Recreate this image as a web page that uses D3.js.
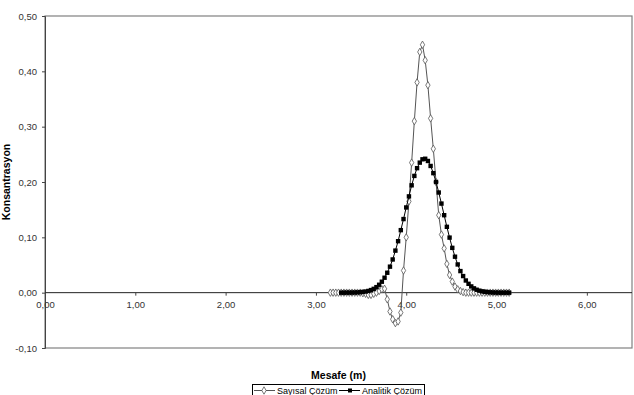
<!DOCTYPE html>
<html>
<head>
<meta charset="utf-8">
<script src="https://cdn.jsdelivr.net/npm/d3@7"></script>
<style>
  body { margin: 0; background: #fff; }
  svg { display: block; font-family: "Liberation Sans", Arial, sans-serif; }
</style>
</head>
<body>
<div id="viz"></div>
<script>
const width = 634;
const height = 395;
const plot = { left: 45, right: 632, top: 16, bottom: 348 };

// x positions (m), shared by both series
const mesafe = [3.16, 3.19, 3.22, 3.25, 3.28, 3.31, 3.34, 3.37, 3.40, 3.43, 3.46, 3.49,
  3.52, 3.55, 3.58, 3.61, 3.64, 3.67, 3.70, 3.73, 3.76, 3.79, 3.82, 3.85, 3.88, 3.91,
  3.94, 3.97, 4.00, 4.03, 4.06, 4.09, 4.12, 4.15, 4.18, 4.21, 4.24, 4.27, 4.30, 4.33,
  4.36, 4.39, 4.42, 4.45, 4.48, 4.51, 4.54, 4.57, 4.60, 4.63, 4.66, 4.69, 4.72, 4.75,
  4.78, 4.81, 4.84, 4.87, 4.90, 4.93, 4.96, 4.99, 5.02, 5.05, 5.08, 5.11, 5.14];

// Sayısal Çözüm (numeric)
const sayisal = [0, 0, 0, 0, 0, 0, 0, 0, 0, 0, 0, 0,
  -0.001, -0.002, -0.004, -0.004, -0.002, 0.000, 0.003, 0.006, 0.007, -0.012, -0.034, -0.048, -0.055, -0.052,
  -0.036, 0.040, 0.100, 0.165, 0.235, 0.310, 0.380, 0.435, 0.448, 0.420, 0.375, 0.315, 0.260, 0.200,
  0.140, 0.105, 0.080, 0.052, 0.032, 0.020, 0.011, 0.006, 0.003, 0.001, 0, 0, 0, 0,
  0, 0, 0, 0, 0, 0, 0, 0, 0, 0, 0, 0, 0];

// Analitik Çözüm (analytic), starts at 3.28
const analitik = [null, null, null, null, 0.0000, 0.0000, 0.0001, 0.0001, 0.0002, 0.0003, 0.0005, 0.0008,
  0.0013, 0.002, 0.0031, 0.0047, 0.0069, 0.010, 0.0143, 0.0198, 0.027, 0.036, 0.047, 0.060, 0.076, 0.093,
  0.113, 0.133, 0.154, 0.174, 0.194, 0.211, 0.225, 0.235, 0.241, 0.242, 0.238, 0.229, 0.216, 0.200,
  0.181, 0.161, 0.140, 0.119, 0.0995, 0.081, 0.065, 0.051, 0.039, 0.030, 0.022, 0.016, 0.0113, 0.0078,
  0.0053, 0.0036, 0.0023, 0.0015, 0.0009, 0.0006, 0.0003, 0.0002, 0.0001, 0, 0, 0, 0];

const xTicks = [0, 1, 2, 3, 4, 5, 6];
const yTicks = [-0.1, 0, 0.1, 0.2, 0.3, 0.4, 0.5];
const seriesNames = ['Sayısal Çözüm', 'Analitik Çözüm'];

const fmt = v => d3.format('.2f')(v).replace('.', ',').replace('\u2212', '-');

const xScale = d3.scaleLinear().domain([0, 6.5]).range([plot.left, plot.right]);
const yScale = d3.scaleLinear().domain([-0.1, 0.5]).range([plot.bottom, plot.top]);

const svg = d3.select('#viz')
  .append('svg')
    .attr('width', width)
    .attr('height', height);

// plot area frame
svg.append('rect')
  .attr('x', plot.left)
  .attr('y', plot.top)
  .attr('width', plot.right - plot.left)
  .attr('height', plot.bottom - plot.top)
  .attr('fill', '#fff')
  .attr('stroke', '#808080')
  .attr('stroke-width', 1.2);

// y axis
const yAxis = svg.append('g')
  .attr('transform', `translate(${plot.left},0)`)
  .call(d3.axisLeft(yScale).tickValues(yTicks).tickFormat(fmt).tickSizeOuter(0).tickSize(3).tickPadding(5));
yAxis.select('.domain').attr('stroke', '#444');
yAxis.selectAll('.tick line').attr('stroke', '#444');
yAxis.selectAll('text').attr('font-size', 9.5).attr('fill', '#333').attr('font-family', '"Liberation Sans", Arial, sans-serif');

// x axis through zero
const xAxis = svg.append('g')
  .attr('transform', `translate(0,${yScale(0)})`)
  .call(d3.axisBottom(xScale).tickValues(xTicks).tickFormat(fmt).tickSizeOuter(0).tickSize(3).tickPadding(6));
xAxis.select('.domain').attr('stroke', '#222').attr('d', `M${plot.left},0H${plot.right}`);
xAxis.selectAll('.tick line').attr('stroke', '#444');
xAxis.selectAll('text').attr('font-size', 9.5).attr('fill', '#333').attr('font-family', '"Liberation Sans", Arial, sans-serif');

// axis titles
svg.append('text')
  .attr('transform', `translate(10,${(plot.top + plot.bottom) / 2}) rotate(-90)`)
  .attr('text-anchor', 'middle')
  .attr('font-size', 10.5)
  .attr('font-weight', 'bold')
  .text('Konsantrasyon');

svg.append('text')
  .attr('x', (plot.left + plot.right) / 2)
  .attr('y', 379)
  .attr('text-anchor', 'middle')
  .attr('font-size', 10.5)
  .attr('font-weight', 'bold')
  .text('Mesafe (m)');

const pts1 = mesafe.map((x, i) => ({ x: x, y: sayisal[i] }));
const pts2 = mesafe.map((x, i) => ({ x: x, y: analitik[i] })).filter(d => d.y !== null);

const line = d3.line()
  .x(d => xScale(d.x))
  .y(d => yScale(d.y));

const diamond = d3.symbol().type(d3.symbolDiamond).size(16);

// numeric series
svg.append('path')
  .datum(pts1)
  .attr('d', line)
  .attr('fill', 'none')
  .attr('stroke', '#555')
  .attr('stroke-width', 1);

svg.append('g')
  .selectAll('path')
  .data(pts1)
  .join('path')
    .attr('d', diamond)
    .attr('transform', d => `translate(${xScale(d.x)},${yScale(d.y)})`)
    .attr('fill', '#fff')
    .attr('stroke', '#555')
    .attr('stroke-width', 0.8);

// analytic series
svg.append('path')
  .datum(pts2)
  .attr('d', line)
  .attr('fill', 'none')
  .attr('stroke', '#000')
  .attr('stroke-width', 1);

svg.append('g')
  .selectAll('rect')
  .data(pts2)
  .join('rect')
    .attr('x', d => xScale(d.x) - 2.2)
    .attr('y', d => yScale(d.y) - 2.2)
    .attr('width', 4.4)
    .attr('height', 4.4)
    .attr('fill', '#000');

// legend
const legend = svg.append('g');
legend.append('rect')
  .attr('x', 252.5)
  .attr('y', 384.5)
  .attr('width', 172)
  .attr('height', 16)
  .attr('fill', '#fff')
  .attr('stroke', '#000')
  .attr('stroke-width', 1);

const legendItems = [
  { x: 254, name: seriesNames[0], marker: 'diamond' },
  { x: 339, name: seriesNames[1], marker: 'square' }
];
const ly = 390.5;
legendItems.forEach(item => {
  legend.append('line')
    .attr('x1', item.x).attr('x2', item.x + 21)
    .attr('y1', ly).attr('y2', ly)
    .attr('stroke', item.marker === 'diamond' ? '#555' : '#000');
  if (item.marker === 'diamond') {
    legend.append('path')
      .attr('d', diamond)
      .attr('transform', `translate(${item.x + 10},${ly})`)
      .attr('fill', '#fff')
      .attr('stroke', '#555')
      .attr('stroke-width', 0.8);
  } else {
    legend.append('rect')
      .attr('x', item.x + 9).attr('y', ly - 2)
      .attr('width', 4).attr('height', 4)
      .attr('fill', '#000');
  }
  legend.append('text')
    .attr('x', item.x + 23)
    .attr('y', ly + 3)
    .attr('font-size', 9)
    .text(item.name);
});
</script>
</body>
</html>
